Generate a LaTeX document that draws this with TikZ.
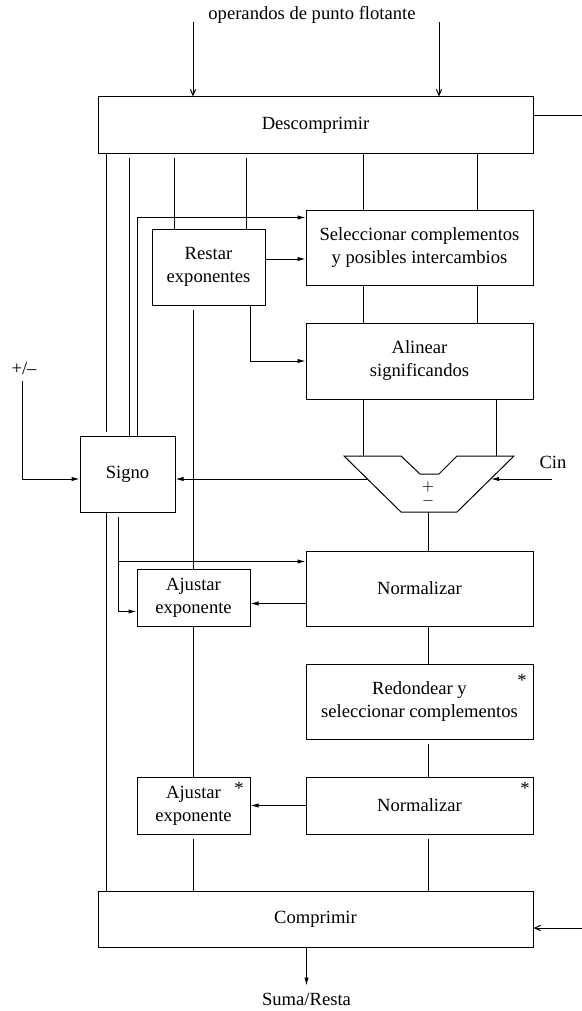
\documentclass[tikz,border=0pt]{standalone}
\usepackage{amsmath}
\usepackage{fontspec}
\setmainfont{Liberation Serif}
\usetikzlibrary{arrows.meta}

\begin{document}
\begin{tikzpicture}[x=0.5pt,y=-0.5pt,line width=0.5pt,
  font=\fontsize{9.3}{11.5}\selectfont,
  box/.style={draw,align=center,inner sep=0pt},
  wide/.style={box,minimum width=113.5pt},
  small/.style={box,minimum width=56.5pt},
  arr/.style={-{Latex[length=4pt,width=2.2pt]}},
  inarr/.style={-{Straight Barb[length=3pt,width=2.6pt]}},
  gapin/.style={shorten <=2pt},
  gapout/.style={shorten >=2pt},
  asterisk/.style={inner sep=0pt}]

\useasboundingbox (0,0) rectangle (582,1011);

% Boxes
\node[box,minimum width=217.5pt,minimum height=28pt] (descomp) at (315.5,125) {Descomprimir};
\node[wide,minimum height=37.5pt] (selec) at (419.5,247.5) {Seleccionar complementos\\y posibles intercambios};
\node[small,minimum height=38pt] (restar) at (208.5,267) {Restar\\exponentes};
\node[wide,minimum height=38pt] (alinear) at (419.5,361) {Alinear\\significandos};
\node[box,minimum width=47.5pt,minimum height=38pt] (signo) at (127.5,474.5) {Signo};
\node[wide,minimum height=37.5pt] (norm1) at (419.5,588.5) {Normalizar};
\node[small,minimum height=28.5pt] (ajust1) at (193.5,597.5) {Ajustar\\exponente};
\node[wide,minimum height=37.5pt] (redond) at (419.5,701.5) {Redondear y\\seleccionar complementos};
\node[wide,minimum height=28.5pt] (norm2) at (419.5,805.5) {Normalizar};
\node[small,minimum height=28.5pt] (ajust2) at (193.5,805.5) {Ajustar\\exponente};
\node[box,minimum width=217.5pt,minimum height=28pt] (compr) at (315.5,919) {Comprimir};

% Stars
\node[asterisk] (s1) at (522,680) {*};
\node[asterisk] (s2) at (525,788) {*};
\node[asterisk] (s3) at (239,788) {*};

% Adder
\coordinate (atl) at (344,456);
\coordinate (ail) at (401,456);
\coordinate (anl) at (420,474);
\coordinate (anr) at (439,474);
\coordinate (air) at (457,456);
\coordinate (atr) at (514,456);
\coordinate (abr) at (457,512);
\coordinate (abl) at (401,512);
\draw (atl) -- (ail) -- (anl) -- (anr) -- (air) -- (atr) -- (abr) -- (abl) -- cycle;
\node[inner sep=0pt] (pmsign) at (428,494) {$\genfrac{}{}{0pt}{1}{+}{-}$};

% Labels
\node (ops) at (312,15) {operandos de punto flotante};
\node (pm) at (24,368) {+/--};
\node (cinl) at (553,462) {Cin};
\node (res) at (306.5,999) {Suma/Resta};

% Lanes
\coordinate (l1) at (106,0);
\coordinate (l2) at (118,0);
\coordinate (l3) at (129,0);
\coordinate (l4) at (137,0);
\coordinate (l5) at (174,0);
\coordinate (l6) at (193,0);
\coordinate (l7) at (246,0);
\coordinate (l8) at (250,0);
\coordinate (r1) at (363,0);
\coordinate (r2) at (428,0);
\coordinate (r3) at (477,0);
\coordinate (r4) at (496,0);

% Inputs and outputs
\coordinate (in1) at (193,22);
\coordinate (in2) at (439,22);
\draw[inarr] (in1) -- (in1 |- descomp.north);
\draw[inarr] (in2) -- (in2 |- descomp.north);
\coordinate (dout) at (582,116);
\draw (descomp.east |- dout) -- (dout);
\coordinate (cin) at (552,479);
\coordinate (acin) at (491,479);
\draw[arr] (cin) -- (acin);
\coordinate (asg) at (367,479);
\draw[arr] (asg) -- (signo.east |- asg);
\draw[arr] ([xshift=-0.7pt]pm.south) |- (signo.west |- asg);
\coordinate (cr) at (582,928);
\draw[inarr] (cr) -- (compr.east |- cr);
\draw[arr] (res.north |- compr.south) -- (res.north);

% Left side
\draw[gapout] (l1 |- descomp.south) -- (l1 |- signo.north);
\draw (l1 |- signo.south) -- (l1 |- compr.north);
\draw[gapout] (l3 |- signo.north) -- (l3 |- descomp.south);
\coordinate (insel) at ([yshift=-4pt]selec.north west);
\draw[arr] (l4 |- signo.north) |- (insel);
\draw[gapin] (l5 |- descomp.south) -- (l5 |- restar.north);
\draw[gapin] (l7 |- descomp.south) -- (l7 |- restar.north);
\coordinate (outres) at ([yshift=4pt]restar.east);
\draw[arr] (outres) -- (selec.west |- outres);
\draw[arr] (l8 |- restar.south) |- (alinear.west);
\draw[gapin] (l6 |- restar.south) -- (l6 |- ajust1.north);
\coordinate (inn1) at ([yshift=-5.5pt]norm1.north west);
\coordinate (inaj1) at ([yshift=7.5pt]ajust1.south west);
\draw[arr,gapin] (l2 |- signo.south) |- (inaj1);
\draw[arr] (l2 |- inn1) -- (inn1);
\coordinate (inaj1r) at ([yshift=-3pt]ajust1.east);
\draw[arr] (norm1.west |- inaj1r) -- (inaj1r);
\draw (l6 |- ajust1.south) -- (l6 |- ajust2.north);
\draw[arr] (norm2.west) -- (ajust2.east);
\draw[gapin] (l6 |- ajust2.south) -- (l6 |- compr.north);

% Right side
\draw (r1 |- descomp.south) -- (r1 |- selec.north);
\draw (r3 |- descomp.south) -- (r3 |- selec.north);
\draw (r1 |- selec.south) -- (r1 |- alinear.north);
\draw (r3 |- selec.south) -- (r3 |- alinear.north);
\draw (r1 |- alinear.south) -- (r1 |- atl);
\draw (r4 |- alinear.south) -- (r4 |- atl);
\draw (r2 |- abl) -- (r2 |- norm1.north);
\draw (r2 |- norm1.south) -- (r2 |- redond.north);
\draw[gapin] (r2 |- redond.south) -- (r2 |- norm2.north);
\draw[gapin] (r2 |- norm2.south) -- (r2 |- compr.north);

\end{tikzpicture}
\end{document}
